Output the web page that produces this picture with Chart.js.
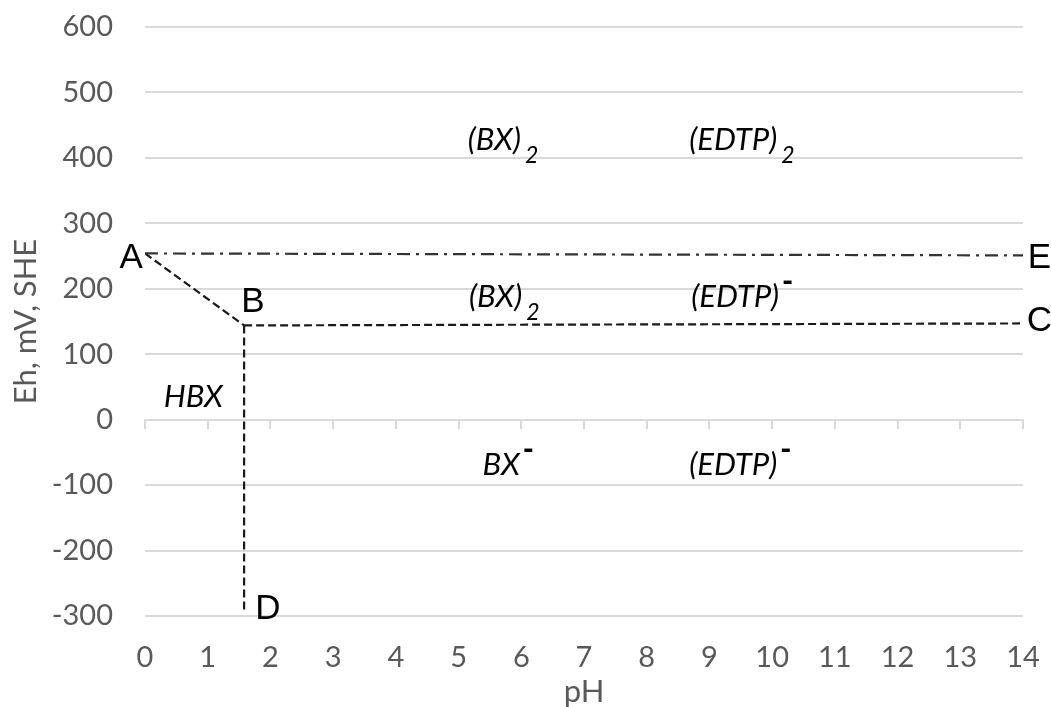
<!DOCTYPE html>
<html>
<head>
<meta charset="utf-8">
<script src="https://cdn.jsdelivr.net/npm/chart.js@4"></script>
<style>
  html, body { margin: 0; padding: 0; background: #fff; }
  #wrap { width: 1051px; height: 707px; }
</style>
</head>
<body>
<div id="wrap"><canvas id="myChart"></canvas></div>
<script>
// boundary lines of the Eh-pH diagram
const lineAE_pH = [0, 14];
const lineAE_Eh = [254, 251];
const lineAB_pH = [0, 1.58];
const lineAB_Eh = [254, 144];
const lineBC_pH = [1.58, 14];
const lineBC_Eh = [144, 147];
const lineBD_pH = [1.58, 1.58];
const lineBD_Eh = [144, -293];

// point letters
const pointNames = ["A", "B", "C", "D", "E"];
const pointPH = [-0.22, 1.72, 14.26, 1.96, 14.26];
const pointEh = [246, 180, 150, -290, 246];

// species labels
const speciesText = ["(BX)", "(EDTP)", "(BX)", "(EDTP)", "BX", "(EDTP)", "HBX"];
const speciesSub = ["2", "2", "2", "", "", "", ""];
const speciesSup = ["", "", "", "-", "-", "-", ""];
const speciesPH = [5.57, 9.38, 5.59, 9.41, 5.68, 9.38, 0.77];
const speciesEh = [427, 427, 187, 187, -70, -70, 35];

const yTicks = [-300, -200, -100, 0, 100, 200, 300, 400, 500, 600];

const toXY = (xs, ys) => xs.map((x, i) => ({ x: x, y: ys[i] }));

const labelPlugin = {
  id: "labels",
  afterDraw(chart) {
    const ctx = chart.ctx;
    const sx = chart.scales.x, sy = chart.scales.y;
    ctx.save();
    ctx.fillStyle = "#000";
    ctx.textAlign = "center";
    ctx.textBaseline = "middle";
    ctx.font = "35px 'Liberation Sans'";
    pointNames.forEach((t, i) => {
      ctx.fillText(t, sx.getPixelForValue(pointPH[i]), sy.getPixelForValue(pointEh[i]));
    });
    speciesText.forEach((t, i) => {
      const px = sx.getPixelForValue(speciesPH[i]);
      const py = sy.getPixelForValue(speciesEh[i]);
      ctx.font = "italic 31px Lato";
      ctx.textAlign = "center";
      ctx.fillText(t, px, py);
      const w = ctx.measureText(t).width;
      ctx.textAlign = "left";
      if (speciesSub[i]) {
        ctx.font = "italic 23px Lato";
        ctx.fillText(speciesSub[i], px + w / 2 + 4, py + 15);
      }
      if (speciesSup[i]) {
        ctx.font = "900 30px Lato";
        ctx.fillText(speciesSup[i], px + w / 2 + 3, py - 15);
      }
    });
    ctx.restore();
  }
};

const dashed = { borderColor: "#1a1a1a", borderWidth: 2.2, borderDash: [8, 4] };
const noPad = (scale) => {
  scale.paddingTop = 0; scale.paddingBottom = 0;
  scale.paddingLeft = 0; scale.paddingRight = 0;
};

new Chart(document.querySelector("#myChart"), {
  type: "scatter",
  data: {
    datasets: [
      { data: toXY(lineAE_pH, lineAE_Eh), borderColor: "#333", borderWidth: 2.2, borderDash: [13, 6, 3, 6] },
      { data: toXY(lineAB_pH, lineAB_Eh), ...dashed },
      { data: toXY(lineBC_pH, lineBC_Eh), ...dashed },
      { data: toXY(lineBD_pH, lineBD_Eh), ...dashed }
    ].map(d => ({ ...d, showLine: true, pointRadius: 0, fill: false }))
  },
  options: {
    responsive: true,
    maintainAspectRatio: false,
    animation: false,
    layout: { padding: { top: 27, right: 28, bottom: 0, left: 0 } },
    plugins: { legend: { display: false }, tooltip: { enabled: false } },
    scales: {
      x: {
        type: "linear",
        position: "bottom",
        min: 0,
        max: 14,
        grid: { display: false, drawTicks: false },
        border: { display: false },
        ticks: { stepSize: 1, maxRotation: 0, autoSkip: false, color: "#595959", font: { family: "Lato", size: 29, lineHeight: 1 }, padding: 27 },
        title: { display: true, text: "pH", color: "#595959", font: { family: "Lato", size: 31, lineHeight: 1 }, padding: 0 },
        afterFit(scale) { scale.height = 91; noPad(scale); }
      },
      x0: {
        type: "linear",
        axis: "x",
        position: { y: 0 },
        min: 0,
        max: 14,
        ticks: { stepSize: 1, display: false },
        grid: { drawOnChartArea: false, drawTicks: true, tickLength: 8, color: "#d9d9d9", lineWidth: 2 },
        border: { display: true, color: "#d9d9d9", width: 2 },
        afterFit: noPad
      },
      y: {
        min: -300,
        max: 600,
        afterBuildTicks(scale) { scale.ticks = yTicks.map(v => ({ value: v })); },
        grid: { color: "#d9d9d9", lineWidth: 2, drawTicks: false },
        border: { display: false },
        ticks: { color: "#595959", font: { family: "Lato", size: 29, lineHeight: 1 }, padding: 32 },
        title: { display: true, text: "Eh, mV, SHE", color: "#595959", font: { family: "Lato", size: 31, lineHeight: 1 }, padding: 10 },
        afterFit(scale) { scale.width = 145; noPad(scale); }
      }
    }
  },
  plugins: [labelPlugin]
});
</script>
</body>
</html>
